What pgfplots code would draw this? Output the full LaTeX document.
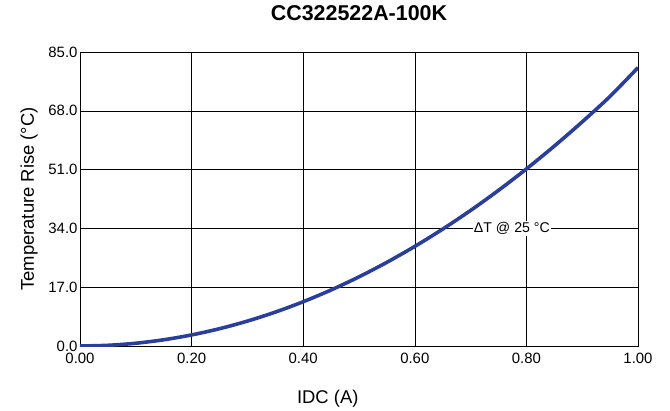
\documentclass[border=0pt]{standalone}
\usepackage{fontspec}
\setmainfont{Liberation Sans}
\usepackage{pgfplots}
\pgfplotsset{compat=1.18}
\definecolor{curveblue}{HTML}{2A3F9C}
\begin{document}
\begin{tikzpicture}
\begin{axis}[
  name=ax,
  scale only axis,
  width=558bp, height=294bp,
  xmin=0, xmax=1, ymin=0, ymax=85,
  xtick={0,0.2,0.4,0.6,0.8,1.0},
  ytick={0,17,34,51,68,85},
  grid=major,
  major grid style={black, line width=0.6pt},
  axis line style={black, line width=0.8pt},
  tick style={draw=none},
  /pgf/number format/assume math mode=true,
  xticklabel style={/pgf/number format/fixed, /pgf/number format/fixed zerofill, /pgf/number format/precision=2, yshift=-4bp},
  yticklabel style={/pgf/number format/fixed, /pgf/number format/fixed zerofill, /pgf/number format/precision=1, xshift=1pt},
  ticklabel style={font=\fontsize{15}{17}\selectfont},
  xlabel={IDC (A)},
  ylabel={Temperature Rise (°C)},
  label style={font=\fontsize{18.5}{21}\selectfont},
  xlabel style={at={(axis description cs:0.444,0)}, anchor=base, yshift=-57bp},
  ylabel style={at={(axis description cs:0,0.5)}, anchor=base, yshift=46bp},
  title={CC322522A-100K},
  title style={font=\bfseries\fontsize{21.5}{24}\selectfont, at={(axis description cs:0.5,1)}, anchor=base, yshift=26bp},
]
\addplot[curveblue, line width=3.6pt, smooth] coordinates {
(0,0) (0.05,0.2) (0.1,0.8) (0.15,1.8) (0.2,3.2) (0.25,5.0) (0.3,7.2)
(0.35,9.8) (0.4,12.8) (0.45,16.2) (0.5,20.0) (0.55,24.2) (0.6,28.8)
(0.65,33.8) (0.7,39.2) (0.75,45.0) (0.8,51.2) (0.85,57.8) (0.9,64.8)
(0.95,72.2) (1.0,80.5)};
\node[fill=white, inner sep=1pt, font=\fontsize{14.2}{16}\selectfont] at (axis cs:0.774,34) {ΔT @ 25 °C};
\end{axis}
\path (ax.south west) ++(-80bp,-64bp) rectangle ++(670bp,410bp);
\end{tikzpicture}
\end{document}
